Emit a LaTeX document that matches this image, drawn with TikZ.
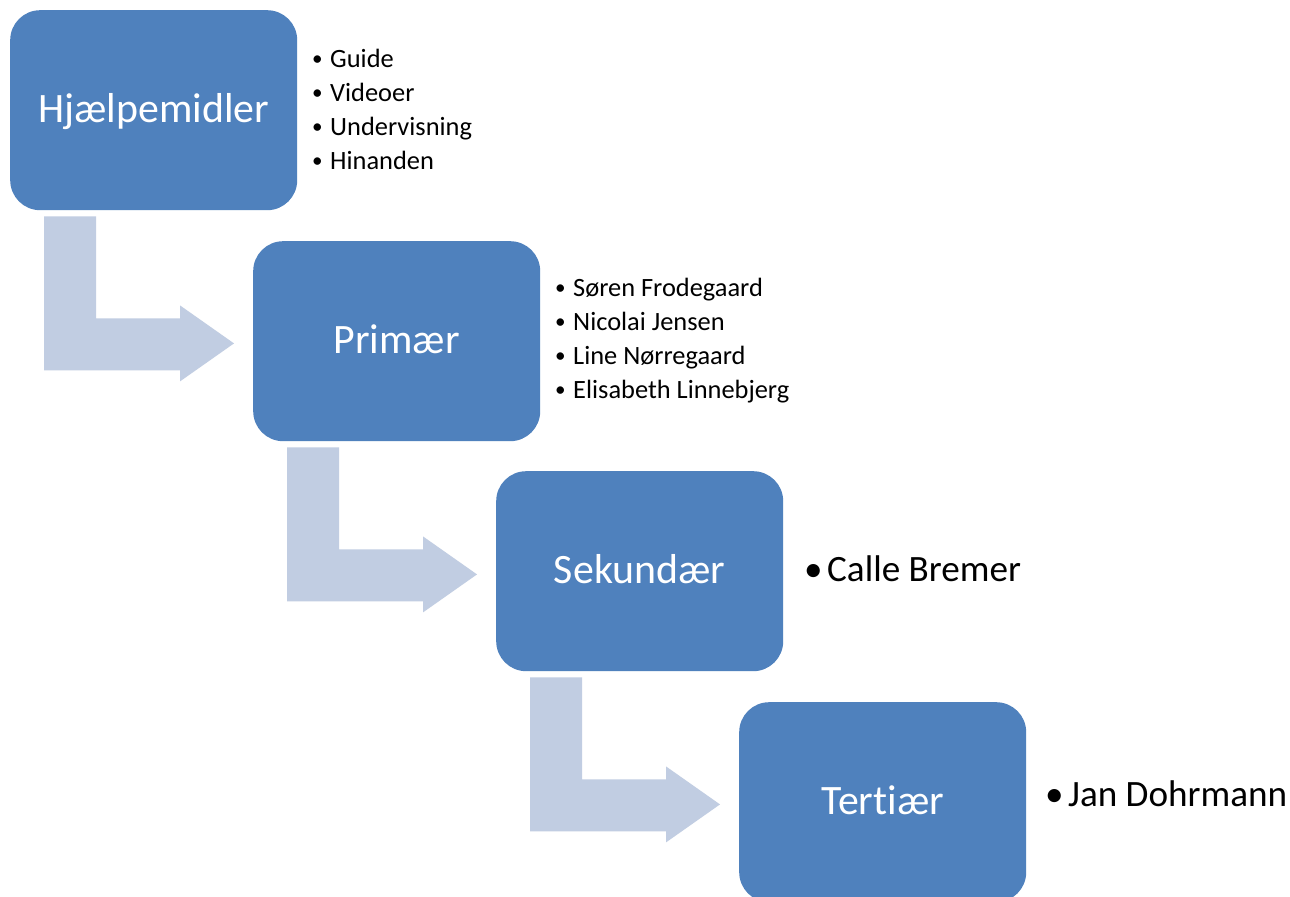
\documentclass[tikz,border=0pt]{standalone}
\usepackage{fontspec}
\setmainfont{Carlito}[Ligatures=NoCommon]
\usetikzlibrary{calc}
\definecolor{boxblue}{RGB}{79,129,189}
\definecolor{arrowblue}{RGB}{193,205,226}
\newcommand{\smallbul}{\raisebox{0.07em}{\scalebox{0.8}{•}}}
\begin{document}
\begin{tikzpicture}[x=1bp,y=-1bp,
  stage/.style={rectangle, rounded corners=30bp, fill=boxblue, minimum width=287bp,
    minimum height=200bp, inner sep=0pt, text=white, text height=25bp, text depth=0bp,
    font=\fontsize{42}{50}\selectfont, anchor=north west},
  smallitem/.style={anchor=base west, inner sep=0pt, font=\fontsize{26.5}{32}\selectfont},
  largeitem/.style={anchor=base west, inner sep=0pt, font=\fontsize{37.3}{44}\selectfont},
  bentarrow/.pic={\fill[arrowblue] (0,0) -- (52,0) -- (52,102) -- (136,102) -- (136,89)
    -- (190,127) -- (136,165) -- (136,154) -- (0,154) -- cycle;}]
\useasboundingbox (0,0) rectangle (1290,897);
\fill[white] (0,0) rectangle (1290,897);

\node[stage] (b1) at (10,10) {Hjælpemidler};
\node[stage] (b2) at (253,241) {Primær};
\node[stage] (b3) at (496,471) {Sekundær};
\node[stage] (b4) at (739,702) {Tertiær};

\path ($(b1.south west)+(34,6)$) pic {bentarrow};
\path ($(b2.south west)+(34,6)$) pic {bentarrow};
\path ($(b3.south west)+(34,6)$) pic {bentarrow};

\foreach \t [count=\i] in {Guide,Videoer,Undervisning,Hinanden}
  \node[smallitem] (la\i) at (312,{67+34*(\i-1)}) {\makebox[18bp][l]{\smallbul}\t};
\foreach \t [count=\i] in {Søren Frodegaard,Nicolai Jensen,Line Nørregaard,Elisabeth Linnebjerg}
  \node[smallitem] (lb\i) at (555,{296+34*(\i-1)}) {\makebox[18bp][l]{\smallbul}\t};
\node[largeitem] (lc1) at (804,581) {\makebox[23bp][l]{•}Calle Bremer};
\node[largeitem] (ld1) at (1045,806) {\makebox[23bp][l]{•}Jan Dohrmann};
\end{tikzpicture}
\end{document}
